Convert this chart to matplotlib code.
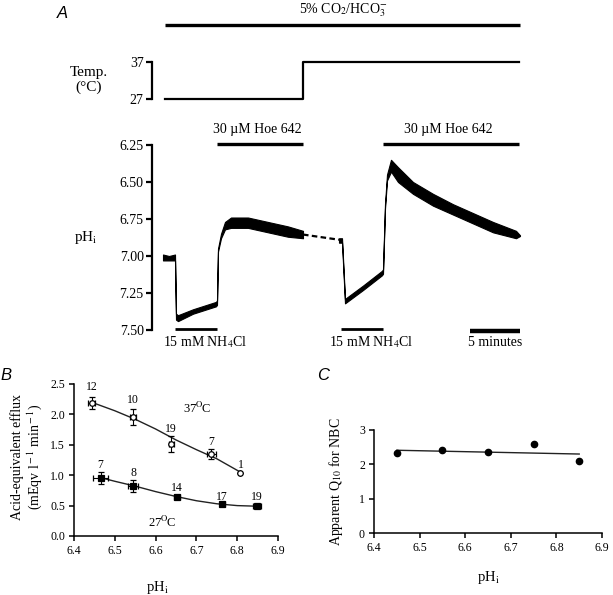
import matplotlib
matplotlib.use("Agg")
import matplotlib.pyplot as plt
import numpy as np

plt.rcParams['font.family'] = ['Liberation Serif', 'DejaVu Serif']
plt.rcParams['mathtext.fontset'] = 'stix'

# ---------------- Panel A data ----------------
# time in minutes, pH envelope (top = lower pH value, bottom = higher pH value)
trace_t = [0.0, 0.6, 1.2, 1.3, 1.5, 3.0, 5.3, 5.4, 5.5, 5.8, 6.2, 6.8, 8.5, 10.5, 12.5, 14.0]
trace_top = [6.99, 7.00, 6.99, 7.39, 7.40, 7.36, 7.31, 7.30, 6.95, 6.85, 6.77, 6.74, 6.74, 6.77, 6.80, 6.83]
trace_bot = [7.03, 7.03, 7.03, 7.43, 7.44, 7.39, 7.34, 7.33, 6.97, 6.88, 6.82, 6.81, 6.81, 6.84, 6.87, 6.88]

gap_t = [14.0, 17.6]
gap_ph = [6.855, 6.89]

trace2_t = [17.6, 17.9, 18.2, 20.0, 21.9, 22.0, 22.2, 22.4, 22.8, 23.5, 25.0, 27.0, 29.0, 31.0, 33.0, 35.3, 35.7]
trace2_top = [6.88, 6.88, 7.29, 7.20, 7.10, 7.09, 6.65, 6.45, 6.35, 6.40, 6.50, 6.58, 6.65, 6.71, 6.77, 6.83, 6.86]
trace2_bot = [6.91, 6.91, 7.32, 7.23, 7.13, 7.12, 6.68, 6.49, 6.43, 6.50, 6.58, 6.66, 6.72, 6.78, 6.84, 6.88, 6.865]

temp_t = [0.2, 14.0, 14.0, 35.6]
temp_c = [27, 27, 37, 37]

co2_bar = (0.2, 35.7)
hoe_bars = [(5.4, 14.0), (22.0, 35.6)]
nh4_bars = [(1.2, 5.4), (17.8, 22.0)]
scale_bar = (30.7, 35.7)

ph_ticks = [6.25, 6.50, 6.75, 7.00, 7.25, 7.50]

# ---------------- Panel B data ----------------
b37_x = [6.443, 6.545, 6.638, 6.737, 6.808]
b37_y = [2.19, 1.96, 1.51, 1.35, 1.04]
b37_xerr = [0.008, 0.007, 0.006, 0.012, 0.0]
b37_yerr = [0.10, 0.13, 0.13, 0.08, 0.0]
b37_n = ['12', '10', '19', '7', '1']
b37_lab_y = [2.45, 2.24, 1.76, 1.55, 1.17]

fit37_x = [6.443, 6.50, 6.55, 6.60, 6.65, 6.70, 6.75, 6.808]
fit37_y = [2.20, 2.06, 1.92, 1.76, 1.58, 1.42, 1.27, 1.05]

b27_x = [6.465, 6.545, 6.652, 6.763, 6.848]
b27_y = [0.95, 0.82, 0.645, 0.52, 0.49]
b27_xerr = [0.018, 0.012, 0.008, 0.006, 0.010]
b27_yerr = [0.10, 0.10, 0.02, 0.0, 0.0]
b27_n = ['7', '8', '14', '17', '19']
b27_lab_y = [1.17, 1.04, 0.79, 0.64, 0.64]

fit27_x = [6.465, 6.50, 6.55, 6.60, 6.65, 6.70, 6.75, 6.80, 6.848]
fit27_y = [0.96, 0.90, 0.82, 0.73, 0.65, 0.58, 0.53, 0.50, 0.49]

# ---------------- Panel C data ----------------
c_x = [6.45, 6.55, 6.65, 6.75, 6.85]
c_y = [2.32, 2.41, 2.36, 2.60, 2.10]
cfit_x = [6.45, 6.85]
cfit_y = [2.41, 2.30]

W, H = 613, 595
fig = plt.figure(figsize=(W / 100, H / 100), dpi=100)

def fx(px):
    return px / W

def fy(py):
    return (H - py) / H

# ---- pH trace axes ----
axA = fig.add_axes([fx(152), fy(330), fx(522) - fx(152), fy(145) - fy(330)])
axA.set_xlim(-1.1, 35.9)
axA.set_ylim(7.5, 6.25)
for s in ['top', 'right', 'bottom']:
    axA.spines[s].set_visible(False)
axA.spines['left'].set_linewidth(1.6)
axA.set_xticks([])
axA.set_yticks(ph_ticks)
axA.set_yticklabels(['%.2f' % v for v in ph_ticks], fontsize=10)
axA.tick_params(axis='y', direction='out', length=4, width=1.6, pad=2)

axA.fill_between(trace_t, trace_top, trace_bot, color='black', lw=0.8)
axA.fill_between(trace2_t, trace2_top, trace2_bot, color='black', lw=0.8)
axA.plot(gap_t, gap_ph, color='black', lw=1.6, ls=(0, (2.5, 1.5)))

for a, b in hoe_bars:
    axA.plot([a, b], [6.243, 6.243], color='black', lw=2.4, clip_on=False, solid_capstyle='butt')
    axA.text((a + b) / 2 - 0.3, 6.145, '30 \u00b5M Hoe 642', ha='center', va='center', fontsize=10)
for a, b in nh4_bars:
    axA.plot([a, b], [7.49, 7.49], color='black', lw=2.0, clip_on=False, solid_capstyle='butt')
    axA.text((a + b) / 2 + 0.9, 7.585, '15 mM NH$_4$Cl', ha='center', va='center', fontsize=10)
axA.plot(list(scale_bar), [7.505, 7.505], color='black', lw=3.2, clip_on=False, solid_capstyle='butt')
axA.text(sum(scale_bar) / 2, 7.585, '5 minutes', ha='center', va='center', fontsize=10)

fig.text(fx(86), fy(238), 'pH$_{\\rm i}$', ha='center', va='center', fontsize=11)

# ---- temperature axes ----
axT = fig.add_axes([fx(152), fy(99), fx(522) - fx(152), fy(62) - fy(99)])
axT.set_xlim(-1.1, 35.9)
axT.set_ylim(27, 37)
for s in ['top', 'right', 'bottom']:
    axT.spines[s].set_visible(False)
axT.spines['left'].set_linewidth(1.6)
axT.set_xticks([])
axT.set_yticks([27, 37])
axT.set_yticklabels(['27', '37'], fontsize=10)
axT.tick_params(axis='y', direction='out', length=4, width=1.6, pad=2)
axT.plot(temp_t, temp_c, color='black', lw=1.6, clip_on=False)
axT.plot(list(co2_bar), [47.0, 47.0], color='black', lw=2.4, clip_on=False, solid_capstyle='butt')
axT.text(18.0, 51.0, '5% CO$_2$/HCO$_3^{-}$', ha='center', va='center', fontsize=10)

fig.text(fx(89), fy(80), 'Temp.\n(\u00b0C)', ha='center', va='center', fontsize=11, linespacing=1.2)
fig.text(fx(62), fy(14), 'A', ha='center', va='center', fontsize=12,
         family='Liberation Sans', style='italic')

# ---- Panel B ----
axB = fig.add_axes([fx(74), fy(536), fx(278) - fx(74), fy(384) - fy(536)])
axB.set_xlim(6.4, 6.9)
axB.set_ylim(0, 2.5)
for s in ['top', 'right']:
    axB.spines[s].set_visible(False)
for s in ['left', 'bottom']:
    axB.spines[s].set_linewidth(1.1)
axB.set_xticks([6.4, 6.5, 6.6, 6.7, 6.8, 6.9])
axB.set_xticklabels(['6.4', '6.5', '6.6', '6.7', '6.8', '6.9'], fontsize=8.5)
axB.set_yticks([0, 0.5, 1.0, 1.5, 2.0, 2.5])
axB.set_yticklabels(['0.0', '0.5', '1.0', '1.5', '2.0', '2.5'], fontsize=8.5)
axB.tick_params(direction='out', length=3.5, width=1.1, pad=3)

axB.plot(fit37_x, fit37_y, color='#222222', lw=1.0)
axB.plot(fit27_x, fit27_y, color='#222222', lw=1.0)
axB.errorbar(b37_x, b37_y, xerr=b37_xerr, yerr=b37_yerr, fmt='o', mfc='white', mec='black',
             ms=4, mew=0.9, ecolor='black', elinewidth=0.8, capsize=2.5, capthick=0.8, zorder=3)
axB.errorbar(b27_x, b27_y, xerr=b27_xerr, yerr=b27_yerr, fmt='s', mfc='black', mec='black',
             ms=4, mew=0.9, ecolor='black', elinewidth=0.8, capsize=2.5, capthick=0.8, zorder=3)
for x, y, t in zip(b37_x, b37_lab_y, b37_n):
    axB.text(x, y, t, ha='center', va='center', fontsize=8.5)
for x, y, t in zip(b27_x, b27_lab_y, b27_n):
    axB.text(x, y, t, ha='center', va='center', fontsize=8.5)
axB.text(6.70, 2.10, '37$^{\\rm O}\\!$C', ha='center', va='center', fontsize=9)
axB.text(6.616, 0.22, '27$^{\\rm O}\\!$C', ha='center', va='center', fontsize=9)

fig.text(fx(27), fy(457), 'Acid-equivalent efflux\n(mEqv l$^{\\rm -1}$ min$^{\\rm -1}$)', rotation=90,
         ha='center', va='center', fontsize=10, linespacing=1.1)
fig.text(fx(157), fy(587), 'pH$_{\\rm i}$', ha='center', va='center', fontsize=10.5)
fig.text(fx(6), fy(375), 'B', ha='center', va='center', fontsize=12,
         family='Liberation Sans', style='italic')

# ---- Panel C ----
axC = fig.add_axes([fx(374), fy(533), fx(602) - fx(374), fy(430) - fy(533)])
axC.set_xlim(6.4, 6.9)
axC.set_ylim(0, 3)
for s in ['top', 'right']:
    axC.spines[s].set_visible(False)
for s in ['left', 'bottom']:
    axC.spines[s].set_linewidth(1.1)
axC.set_xticks([6.4, 6.5, 6.6, 6.7, 6.8, 6.9])
axC.set_xticklabels(['6.4', '6.5', '6.6', '6.7', '6.8', '6.9'], fontsize=8.5)
axC.set_yticks([0, 1, 2, 3])
axC.set_yticklabels(['0', '1', '2', '3'], fontsize=8.5)
axC.tick_params(direction='out', length=3.5, width=1.1, pad=3)
axC.plot(cfit_x, cfit_y, color='#222222', lw=1.0)
axC.plot(c_x, c_y, 'o', color='black', ms=4.5)

fig.text(fx(336), fy(482), 'Apparent Q$_{10}$ for NBC', rotation=90, ha='center', va='center', fontsize=10)
fig.text(fx(488), fy(577), 'pH$_{\\rm i}$', ha='center', va='center', fontsize=10.5)
fig.text(fx(323), fy(375), 'C', ha='center', va='center', fontsize=12,
         family='Liberation Sans', style='italic')

fig.savefig('out.png', dpi=100)
